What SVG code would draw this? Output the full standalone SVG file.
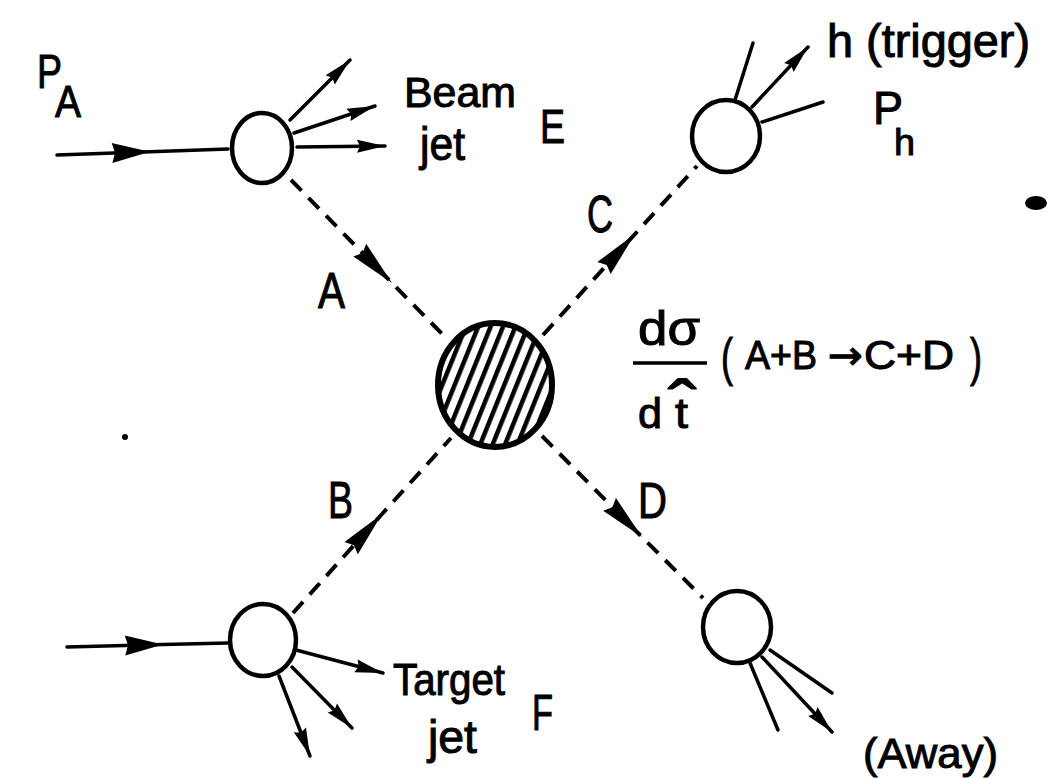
<svg xmlns="http://www.w3.org/2000/svg" width="1049" height="778" viewBox="0 0 1049 778">
<defs>
<style>
.t{font-family:"Liberation Sans","DejaVu Sans",sans-serif;fill:#000;stroke:#000;stroke-width:1}
.c{fill:#fff;stroke:#000;stroke-width:4.5}
.s{fill:none;stroke:#000;stroke-width:3.5;stroke-linecap:round}
.d{fill:none;stroke:#000;stroke-width:4;stroke-dasharray:15 10}
</style>
<pattern id="hatch" patternUnits="userSpaceOnUse" width="11.5" height="40" patternTransform="rotate(22)">
<rect width="11.5" height="40" fill="#fff"/>
<rect x="0" y="0" width="4.5" height="40" fill="#000"/>
</pattern>
<marker id="mid" markerUnits="userSpaceOnUse" orient="auto" markerWidth="60" markerHeight="30" viewBox="-50 -15 60 30" refX="0" refY="0" overflow="visible">
<path d="M0,0 L-46,-9 L-42,0 L-46,9 Z" fill="#000"/>
</marker>
<marker id="in" markerUnits="userSpaceOnUse" orient="auto" markerWidth="60" markerHeight="30" viewBox="-50 -15 60 30" refX="0" refY="0" overflow="visible">
<path d="M0,0 L-38,-10 L-35,0 L-38,10 Z" fill="#000"/>
</marker>
<marker id="tip" markerUnits="userSpaceOnUse" orient="auto" markerWidth="40" markerHeight="20" viewBox="-35 -10 40 20" refX="0" refY="0" overflow="visible">
<path d="M0,0 L-28,-6.5 L-25,0 L-28,6.5 Z" fill="#000"/>
</marker>
</defs>
<rect width="1049" height="778" fill="#fff"/>

<g id="connectors">
<polyline class="s" points="57,155 150,151.7 228,149" marker-mid="url(#in)"/>
<polyline class="s" points="67,647 163,644.5 228,643" marker-mid="url(#in)"/>
<polyline class="d" points="291,180 392,283 448,340" marker-mid="url(#mid)"/>
<polyline class="d" points="543,335 635,234 697,166" marker-mid="url(#mid)"/>
<polyline class="d" points="293,613 382,514 451,438" marker-mid="url(#mid)"/>
<polyline class="d" points="542,436 642,537 703,598" marker-mid="url(#mid)"/>
<line class="s" x1="290" y1="120" x2="350" y2="60" marker-end="url(#tip)"/>
<line class="s" x1="294" y1="133" x2="375" y2="106" marker-end="url(#tip)"/>
<line class="s" x1="297" y1="147" x2="385" y2="146" marker-end="url(#tip)"/>
<line class="s" x1="735" y1="100" x2="753" y2="43"/>
<line class="s" x1="752" y1="107" x2="808" y2="47" marker-end="url(#tip)"/>
<line class="s" x1="762" y1="122" x2="823" y2="102"/>
<line class="s" x1="296" y1="650" x2="383" y2="673" marker-end="url(#tip)"/>
<line class="s" x1="292" y1="667" x2="352" y2="728" marker-end="url(#tip)"/>
<line class="s" x1="279" y1="676" x2="310" y2="756" marker-end="url(#tip)"/>
<line class="s" x1="770" y1="650" x2="832" y2="693"/>
<line class="s" x1="762" y1="657" x2="832" y2="732" marker-end="url(#tip)"/>
<line class="s" x1="750" y1="663" x2="778" y2="730"/>
</g>

<g id="node-beam">
<ellipse class="c" cx="262" cy="148" rx="30" ry="35"/>
</g>
<g id="node-trigger">
<ellipse class="c" cx="726" cy="136" rx="34" ry="36"/>
</g>
<g id="node-target">
<ellipse class="c" cx="263" cy="640" rx="33" ry="36"/>
</g>
<g id="node-away">
<ellipse class="c" cx="737" cy="627" rx="34" ry="36"/>
</g>
<g id="node-hard">
<ellipse cx="495" cy="385" rx="57" ry="62" fill="url(#hatch)" stroke="#000" stroke-width="6"/>
</g>

<g id="labels">
<text class="t" x="37" y="88" font-size="48" textLength="25" lengthAdjust="spacingAndGlyphs">P</text>
<text class="t" x="55" y="117" font-size="44" textLength="26" lengthAdjust="spacingAndGlyphs">A</text>
<text class="t" x="404" y="107" font-size="42" textLength="112" lengthAdjust="spacingAndGlyphs">Beam</text>
<text class="t" x="420" y="160" font-size="46" textLength="45" lengthAdjust="spacingAndGlyphs">jet</text>
<text class="t" x="540" y="143" font-size="48" textLength="25" lengthAdjust="spacingAndGlyphs">E</text>
<text class="t" x="827" y="57" font-size="46" textLength="203" lengthAdjust="spacingAndGlyphs">h (trigger)</text>
<text class="t" x="873" y="124" font-size="46" textLength="30" lengthAdjust="spacingAndGlyphs">P</text>
<text class="t" x="894" y="155" font-size="36" textLength="21" lengthAdjust="spacingAndGlyphs">h</text>
<text class="t" x="587" y="232" font-size="52" textLength="26" lengthAdjust="spacingAndGlyphs">C</text>
<text class="t" x="318" y="308" font-size="50" textLength="27" lengthAdjust="spacingAndGlyphs">A</text>
<text class="t" x="328" y="518" font-size="52" textLength="25" lengthAdjust="spacingAndGlyphs">B</text>
<text class="t" x="638" y="518" font-size="50" textLength="29" lengthAdjust="spacingAndGlyphs">D</text>
<text class="t" x="638" y="345" font-size="48" textLength="62" lengthAdjust="spacingAndGlyphs">dσ</text>
<line x1="633" y1="363" x2="707" y2="363" stroke="#000" stroke-width="3.5"/>
<text class="t" x="638" y="428" font-size="42" textLength="24" lengthAdjust="spacingAndGlyphs">d</text>
<text class="t" x="675" y="428" font-size="42" textLength="13" lengthAdjust="spacingAndGlyphs">t</text>
<text class="t" x="668" y="432" font-size="72" textLength="29" lengthAdjust="spacingAndGlyphs">ˆ</text>
<text class="t" x="721" y="375" font-size="52" textLength="12" lengthAdjust="spacingAndGlyphs">(</text>
<text class="t" x="745" y="369" font-size="40" textLength="72" lengthAdjust="spacingAndGlyphs">A+B</text>
<text class="t" x="828" y="369" font-size="40" textLength="35" lengthAdjust="spacingAndGlyphs" style="font-family:'DejaVu Sans',sans-serif">→</text>
<text class="t" x="864" y="369" font-size="40" textLength="90" lengthAdjust="spacingAndGlyphs">C+D</text>
<text class="t" x="970" y="375" font-size="52" textLength="12" lengthAdjust="spacingAndGlyphs">)</text>
<text class="t" x="393" y="695" font-size="44" textLength="112" lengthAdjust="spacingAndGlyphs">Target</text>
<text class="t" x="428" y="753" font-size="46" textLength="49" lengthAdjust="spacingAndGlyphs">jet</text>
<text class="t" x="532" y="730" font-size="50" textLength="21" lengthAdjust="spacingAndGlyphs">F</text>
<text class="t" x="863" y="768" font-size="42" textLength="135" lengthAdjust="spacingAndGlyphs">(Away)</text>
</g>

<g id="marks">
<ellipse cx="1036" cy="203" rx="11" ry="7" fill="#000"/>
<circle cx="125" cy="437" r="3" fill="#000"/>
</g>
</svg>
